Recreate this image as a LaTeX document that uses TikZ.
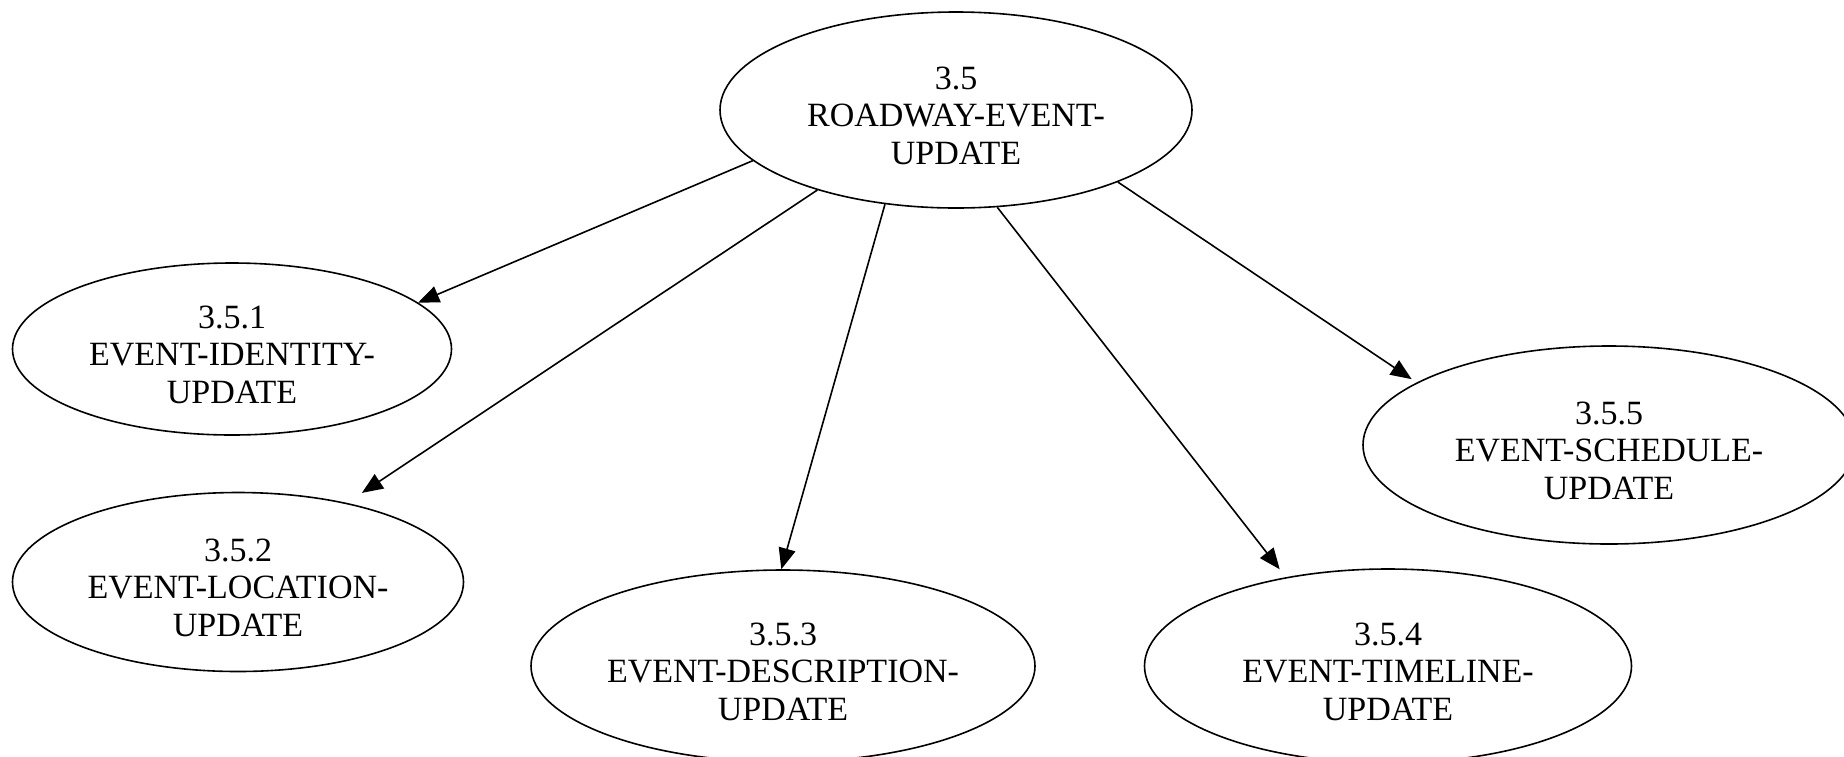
\documentclass[tikz,border=0pt]{standalone}
\usepackage{fontspec}
\setmainfont{Liberation Serif}
\usetikzlibrary{arrows.meta,shapes.geometric}

% taller first line so the label block sits a little low in its ellipse
\newcommand{\firstline}{\rule{0pt}{34pt}}

\tikzset{
  proc/.style={draw, ellipse, line width=1.6pt, inner sep=-15pt, align=center,
               font=\fontsize{34}{37.5}\selectfont},
  flow/.style={line width=1.6pt, -{Triangle[length=21pt,width=17pt]}}
}

\begin{document}
\begin{tikzpicture}[x=1pt, y=-1pt]
  \useasboundingbox (0,0) rectangle (1844,756);

  % parent process
  \node[proc, minimum width=472pt, minimum height=196pt] (top) at (956,110)
    {\firstline 3.5\\ROADWAY-EVENT-\\UPDATE};

  % sub-processes
  \node[proc, minimum width=439pt, minimum height=172pt] (n1) at (232,349)
    {\firstline 3.5.1\\EVENT-IDENTITY-\\UPDATE};
  \node[proc, minimum width=451pt, minimum height=179pt] (n2) at (238,582)
    {\firstline 3.5.2\\EVENT-LOCATION-\\UPDATE};
  \node[proc, minimum width=504pt, minimum height=192pt] (n3) at (783,666)
    {\firstline 3.5.3\\EVENT-DESCRIPTION-\\UPDATE};
  \node[proc, minimum width=487pt, minimum height=194pt] (n4) at (1388,666)
    {\firstline 3.5.4\\EVENT-TIMELINE-\\UPDATE};
  \node[proc, minimum width=492pt, minimum height=198pt] (n5) at (1609,445)
    {\firstline 3.5.5\\EVENT-SCHEDULE-\\UPDATE};

  % decomposition arrows
  \draw[flow] (top.194.7) -- (n1.14.5);
  \draw[flow, shorten >=18pt] (top.210.3) -- (n2.36.7);
  \draw[flow] (top.233.7) -- (n3.91.2);
  \draw[flow, shorten >=10pt] (top.293.3) -- (n4.139.2);
  \draw[flow, shorten >=6pt] (top.336.8) -- (n5.162.2);
\end{tikzpicture}
\end{document}
